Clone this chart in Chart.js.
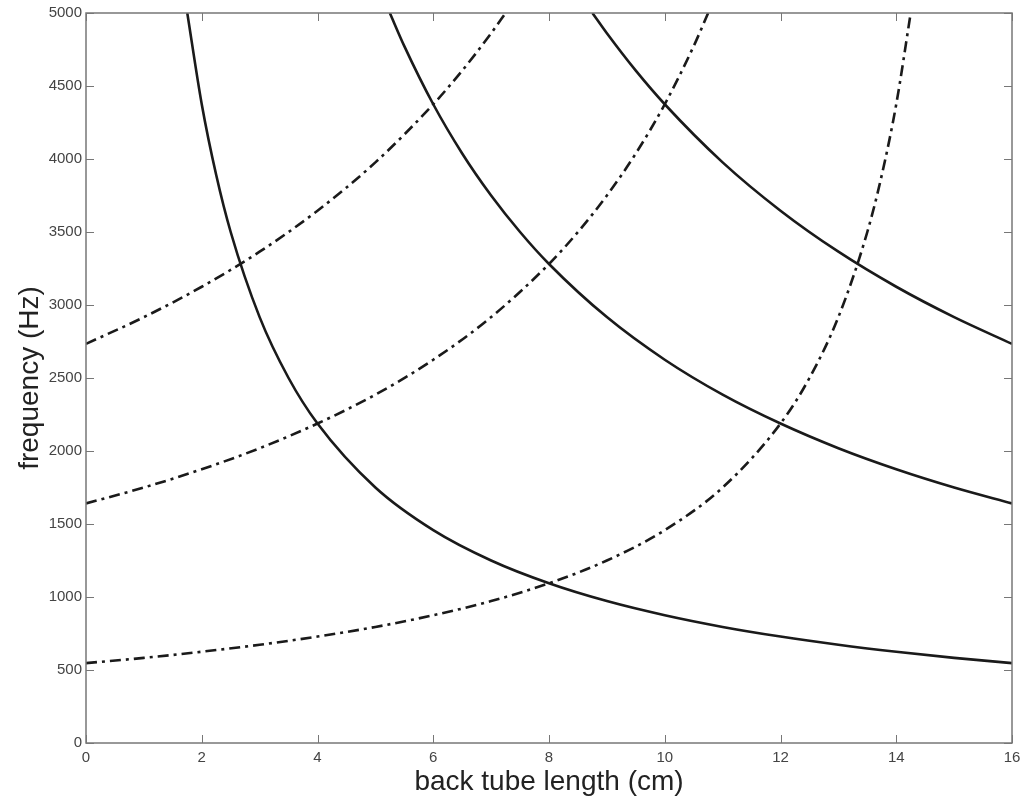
<!DOCTYPE html>
<html>
<head>
<meta charset="utf-8">
<script src="https://cdn.jsdelivr.net/npm/chart.js@4"></script>
<style>
  html, body { margin: 0; padding: 0; background: #fff; }
  canvas { display: block; }
</style>
</head>
<body>
<canvas id="chart" width="1022" height="799"></canvas>
<script>
// ---- Data ----

// back-cavity resonances (solid)
const back1X = [1.75, 2, 2.25, 2.5, 3, 3.5, 4, 5, 6, 7, 8, 9, 10, 11, 12, 13, 14, 15, 16]
const back1Y = [5000, 4375, 3890, 3500, 2917, 2500, 2188, 1750, 1458, 1250, 1094, 972, 875, 795, 729, 673, 625, 583, 547]

const back2X = [5.25, 5.5, 6, 6.5, 7, 7.5, 8, 9, 10, 11, 12, 13, 14, 15, 16]
const back2Y = [5000, 4773, 4375, 4038, 3750, 3500, 3281, 2917, 2625, 2386, 2188, 2019, 1875, 1750, 1641]

const back3X = [8.75, 9, 9.5, 10, 11, 12, 13, 14, 15, 16]
const back3Y = [5000, 4861, 4605, 4375, 3977, 3646, 3365, 3125, 2917, 2734]

// front-cavity resonances (dash-dot)
const front1X = [0, 1, 2, 3, 4, 5, 6, 7, 8, 9, 10, 11, 12, 12.5, 13, 13.5, 13.75, 14, 14.25]
const front1Y = [547, 583, 625, 673, 729, 795, 875, 972, 1094, 1250, 1458, 1750, 2188, 2500, 2917, 3500, 3890, 4375, 5000]

const front2X = [0, 1, 2, 3, 4, 5, 6, 7, 8, 8.5, 9, 9.5, 10, 10.5, 10.75]
const front2Y = [1641, 1750, 1875, 2019, 2188, 2386, 2625, 2917, 3281, 3500, 3750, 4038, 4375, 4773, 5000]

const front3X = [0, 1, 2, 3, 4, 5, 6, 6.5, 7, 7.25]
const front3Y = [2734, 2917, 3125, 3365, 3646, 3977, 4375, 4605, 4861, 5000]

const xTicks = [0, 2, 4, 6, 8, 10, 12, 14, 16]
const yTicks = [0, 500, 1000, 1500, 2000, 2500, 3000, 3500, 4000, 4500, 5000]

// ---- Helpers ----

const pts = (xs, ys) => xs.map((x, i) => ({ x, y: ys[i] }))

function solid(xs, ys) {
  return { data: pts(xs, ys), borderColor: '#1a1a1a', borderWidth: 2.6, pointRadius: 0,
           cubicInterpolationMode: 'monotone', fill: false }
}
function dashDot(xs, ys) {
  return { data: pts(xs, ys), borderColor: '#1a1a1a', borderWidth: 2.6, pointRadius: 0,
           borderDash: [11, 5, 3, 5], cubicInterpolationMode: 'monotone', fill: false }
}

// box + inward ticks like the original figure
const boxPlugin = {
  id: 'box',
  afterDraw(chart) {
    const { ctx, chartArea: a, scales: { x, y } } = chart
    ctx.save()
    ctx.strokeStyle = '#777'
    ctx.lineWidth = 1.5
    ctx.strokeRect(a.left, a.top, a.right - a.left, a.bottom - a.top)
    ctx.lineWidth = 1
    ctx.beginPath()
    for (const v of xTicks) {
      const px = Math.round(x.getPixelForValue(v)) + 0.5
      ctx.moveTo(px, a.bottom); ctx.lineTo(px, a.bottom - 8)
      ctx.moveTo(px, a.top);    ctx.lineTo(px, a.top + 8)
    }
    for (const v of yTicks) {
      const py = Math.round(y.getPixelForValue(v)) + 0.5
      ctx.moveTo(a.left, py);  ctx.lineTo(a.left + 8, py)
      ctx.moveTo(a.right, py); ctx.lineTo(a.right - 8, py)
    }
    ctx.stroke()
    ctx.restore()
  }
}

const tickFont  = { family: 'Liberation Sans, Arial', size: 15 }
const titleFont = { family: 'Liberation Sans, Arial', size: 28 }

new Chart(document.getElementById('chart'), {
  type: 'line',
  data: {
    datasets: [
      solid(back1X, back1Y), solid(back2X, back2Y), solid(back3X, back3Y),
      dashDot(front1X, front1Y), dashDot(front2X, front2Y), dashDot(front3X, front3Y)
    ]
  },
  options: {
    responsive: false,
    animation: false,
    layout: { padding: { top: 13, right: 10, left: 0, bottom: 0 } },
    plugins: { legend: { display: false }, tooltip: { enabled: false } },
    scales: {
      x: {
        type: 'linear', min: 0, max: 16,
        afterBuildTicks: s => { s.ticks = xTicks.map(v => ({ value: v })) },
        afterFit: s => { s.height = 56; s.paddingLeft = 0; s.paddingRight = 0 },
        grid: { display: false, drawTicks: false, tickLength: 0 },
        border: { display: false },
        ticks: { color: '#444', font: tickFont, padding: 6, maxRotation: 0 },
        title: { display: true, text: 'back tube length (cm)', color: '#222',
                 font: titleFont, padding: { top: 0, bottom: 0 } }
      },
      y: {
        type: 'linear', min: 0, max: 5000,
        afterBuildTicks: s => { s.ticks = yTicks.map(v => ({ value: v })) },
        afterFit: s => { s.width = 86; s.paddingTop = 0; s.paddingBottom = 0 },
        grid: { display: false, drawTicks: false, tickLength: 0 },
        border: { display: false },
        ticks: { color: '#444', font: tickFont, padding: 4, callback: v => String(v) },
        title: { display: true, text: 'frequency (Hz)', color: '#222',
                 font: titleFont, padding: { top: 13, bottom: 0 } }
      }
    }
  },
  plugins: [boxPlugin]
})
</script>
</body>
</html>
